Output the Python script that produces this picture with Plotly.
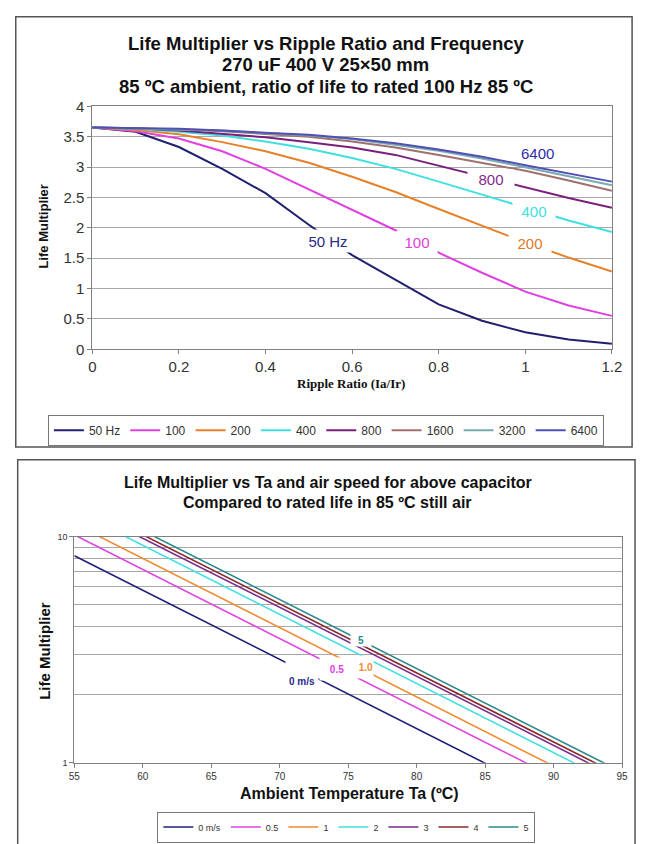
import math
import plotly.graph_objects as go

W, H = 646, 844

def px(x):
    return x / W

def py(y):
    return 1 - y / H

# ---------------- top chart data ----------------
ripple_ratio = [0.0, 0.1, 0.2, 0.3, 0.4, 0.5, 0.6, 0.7, 0.8, 0.9, 1.0, 1.1, 1.2]
freq_labels = ["50 Hz", "100", "200", "400", "800", "1600", "3200", "6400"]
life_50hz = [3.65, 3.58, 3.33, 2.97, 2.57, 2.05, 1.55, 1.14, 0.74, 0.47, 0.28, 0.16, 0.09]
life_100hz = [3.65, 3.59, 3.47, 3.26, 2.97, 2.63, 2.29, 1.96, 1.59, 1.26, 0.95, 0.72, 0.55]
life_200hz = [3.65, 3.61, 3.54, 3.41, 3.26, 3.07, 2.84, 2.59, 2.31, 2.03, 1.76, 1.51, 1.28]
life_400hz = [3.65, 3.63, 3.58, 3.52, 3.42, 3.30, 3.15, 2.97, 2.76, 2.55, 2.33, 2.12, 1.93]
life_800hz = [3.65, 3.64, 3.60, 3.55, 3.49, 3.41, 3.32, 3.20, 3.02, 2.84, 2.66, 2.49, 2.33]
life_1600hz = [3.65, 3.64, 3.62, 3.59, 3.55, 3.50, 3.42, 3.32, 3.20, 3.07, 2.94, 2.78, 2.61]
life_3200hz = [3.65, 3.64, 3.62, 3.60, 3.56, 3.52, 3.46, 3.37, 3.27, 3.14, 3.00, 2.85, 2.70]
life_6400hz = [3.65, 3.64, 3.63, 3.60, 3.57, 3.53, 3.47, 3.39, 3.29, 3.17, 3.03, 2.90, 2.76]
freq_colors = ["#202070", "#e040e0", "#e8802a", "#40e0e0", "#7a1f7a", "#a07070", "#78aab0", "#5050b4"]

# ---------------- bottom chart data ----------------
ambient_temp = [55, 60, 65, 70, 75, 80, 85, 90, 95]
air_labels = ["0 m/s", "0.5", "1", "2", "3", "4", "5"]
mult_0 = [8.24, 5.80, 4.08, 2.87, 2.02, 1.42, 1.00, 0.70, 0.50]
mult_05 = [10.18, 7.16, 5.04, 3.55, 2.49, 1.76, 1.24, 0.87, 0.61]
mult_1 = [11.39, 8.01, 5.64, 3.97, 2.79, 1.96, 1.38, 0.97, 0.68]
mult_2 = [13.02, 9.16, 6.44, 4.53, 3.19, 2.25, 1.58, 1.11, 0.78]
mult_3 = [13.97, 9.83, 6.91, 4.86, 3.42, 2.41, 1.69, 1.19, 0.84]
mult_4 = [14.47, 10.18, 7.16, 5.04, 3.55, 2.49, 1.76, 1.24, 0.87]
mult_5 = [15.09, 10.62, 7.47, 5.26, 3.70, 2.60, 1.83, 1.29, 0.91]
air_colors = ["#1f1f78", "#e040e0", "#f08a30", "#40e0e0", "#7a2a8a", "#8a2a2a", "#2a8a8a"]

SANS = "Liberation Sans, Arial, sans-serif"
SERIF = "Liberation Serif, Times New Roman, serif"

fig = go.Figure()

top_series = [life_50hz, life_100hz, life_200hz, life_400hz,
              life_800hz, life_1600hz, life_3200hz, life_6400hz]
for name, ys, col in zip(freq_labels, top_series, freq_colors):
    fig.add_trace(go.Scatter(x=ripple_ratio, y=ys, name=name, mode="lines",
                             line=dict(color=col, width=2),
                             xaxis="x", yaxis="y", legend="legend"))

bot_series = [mult_0, mult_05, mult_1, mult_2, mult_3, mult_4, mult_5]
for name, ys, col in zip(air_labels, bot_series, air_colors):
    fig.add_trace(go.Scatter(x=ambient_temp, y=ys, name=name, mode="lines",
                             line=dict(color=col, width=1.6),
                             xaxis="x2", yaxis="y2", legend="legend2"))

AX = "#808080"
GRID = "#a8a8a8"


def paper_text(txt, x, y, size, family=SANS, angle=0, color="#111"):
    return dict(text=txt, x=px(x), y=py(y), xref="paper", yref="paper", showarrow=False,
                textangle=angle, xanchor="center", yanchor="middle",
                font=dict(family=family, size=size, color=color))


annotations = []
for txt, yy in [("Life Multiplier vs Ripple Ratio and Frequency", 35),
                ("270 uF 400 V 25×50 mm", 57),
                ("85 ºC ambient, ratio of life to rated 100 Hz 85 ºC", 79)]:
    annotations.append(paper_text("<b>%s</b>" % txt, 328, yy, 18.5))
annotations.append(paper_text("<b>Life Multiplier</b>", 38, 222, 13, angle=-90))
annotations.append(paper_text("<b>Ripple Ratio (Ia/Ir)</b>", 354, 382, 13, family=SERIF))

top_labels = [
    ("50 Hz", 0.544, 1.78, "#2a2a88", 46, 22, "white"),
    ("100", 0.749, 1.76, "#e040e0", 40, 22, "white"),
    ("200", 1.010, 1.75, "#e07a28", 42, 20, "white"),
    ("400", 1.019, 2.28, "#40e0e0", 42, 18, "white"),
    ("800", 0.920, 2.80, "#8a2a8a", 46, 18, "white"),
    ("6400", 1.028, 3.23, "#2e2ea8", None, None, "rgba(0,0,0,0)"),
]
for txt, xv, yv, col, w, h, bg in top_labels:
    a = dict(text=txt, x=xv, y=yv, xref="x", yref="y", showarrow=False,
             font=dict(family=SANS, size=15, color=col), bgcolor=bg, borderpad=0)
    if w:
        a["width"] = w
        a["height"] = h
    annotations.append(a)

for txt, yy in [("Life Multiplier vs Ta and air speed for above capacitor", 483),
                ("Compared to rated life in 85 ºC still air", 504)]:
    annotations.append(paper_text("<b>%s</b>" % txt, 330, yy, 16))
annotations.append(paper_text("<b>Life Multiplier</b>", 40, 655, 15, angle=-90))
annotations.append(paper_text("<b>Ambient Temperature Ta (ºC)</b>", 352, 801, 16))

bot_labels = [
    ("0 m/s", 71.6, 2.48, "#2a2a88", 32, 26, "white", "center", "bottom"),
    ("0.5", 74.19, 2.61, "#e040e0", 34, 22, "white", "center", "middle"),
    ("1.0", 75.79, 2.64, "#f08a30", 28, 22, "white", "right", "middle"),
    ("5", 75.93, 3.49, "#2a8a8a", 20, 12, "white", "center", "middle"),
]
for txt, xv, yv, col, w, h, bg, al, va in bot_labels:
    annotations.append(dict(text="<b>%s</b>" % txt, x=xv, y=math.log10(yv), xref="x2", yref="y2",
                            showarrow=False, font=dict(family=SANS, size=10, color=col),
                            bgcolor=bg, borderpad=0, width=w, height=h, align=al, valign=va))

shapes = [
    dict(type="rect", xref="paper", yref="paper", x0=px(10), x1=px(642), y0=py(8), y1=py(447),
         line=dict(color="#555", width=1.5), fillcolor="rgba(0,0,0,0)", layer="above"),
    dict(type="rect", xref="paper", yref="paper", x0=px(12), x1=px(645), y0=py(460), y1=py(860),
         line=dict(color="#555", width=1.5), fillcolor="rgba(0,0,0,0)", layer="above"),
]

fig.update_layout(
    width=W, height=H, margin=dict(l=0, r=0, t=0, b=0),
    paper_bgcolor="white", plot_bgcolor="white",
    font=dict(family=SANS, color="#333"),
    xaxis=dict(domain=[px(88.5), px(621.3)], anchor="y", range=[0, 1.2], dtick=0.2,
               tickformat="~g", showgrid=False, zeroline=False, showline=True, mirror=True,
               linecolor=AX, linewidth=1, ticks="outside", ticklen=4, tickcolor=AX,
               tickfont=dict(size=15, color="#333", family=SANS)),
    yaxis=dict(domain=[py(347.3), py(99.3)], anchor="x", range=[0, 4], dtick=0.5,
               tickformat="~g", showgrid=True, gridcolor=GRID, gridwidth=1, zeroline=False,
               showline=True, mirror=True, linecolor=AX, linewidth=1, ticks="outside",
               ticklen=4, tickcolor=AX, tickfont=dict(size=15, color="#333", family=SANS)),
    xaxis2=dict(domain=[px(70.1), px(631.7)], anchor="y2", range=[55, 95], dtick=5,
                showgrid=False, zeroline=False, showline=True, mirror=True, linecolor=AX,
                linewidth=1, ticks="outside", ticklen=4, tickcolor=AX,
                tickfont=dict(size=10, color="#333", family=SANS)),
    yaxis2=dict(domain=[py(769.3), py(538.5)], anchor="x2", type="log", range=[0, 1],
                tickvals=[1, 10], ticktext=["1", "10"], showgrid=True, gridcolor=GRID, gridwidth=1,
                zeroline=False, showline=True, mirror=True, linecolor=AX, linewidth=1,
                ticks="outside", ticklen=4, tickcolor=AX,
                tickfont=dict(size=9, color="#333", family=SANS),
                minor=dict(tickvals=[2, 3, 4, 5, 6, 7, 8, 9], showgrid=True, gridcolor=GRID,
                           gridwidth=1, ticks="")),
    legend=dict(orientation="h", x=px(328), xanchor="center", y=py(414), yanchor="top",
                bordercolor="#777", borderwidth=1, bgcolor="white",
                font=dict(family=SANS, size=12, color="#333"), itemwidth=30),
    legend2=dict(orientation="h", x=px(349), xanchor="center", y=py(819), yanchor="top",
                 bordercolor="#777", borderwidth=1, bgcolor="white",
                 font=dict(family=SANS, size=9, color="#333"), itemwidth=30),
    annotations=annotations,
    shapes=shapes,
    showlegend=True,
)

fig.write_html("out.html", config={"displayModeBar": False},
               post_script="document.body.style.margin='0';document.body.style.overflow='hidden';")
